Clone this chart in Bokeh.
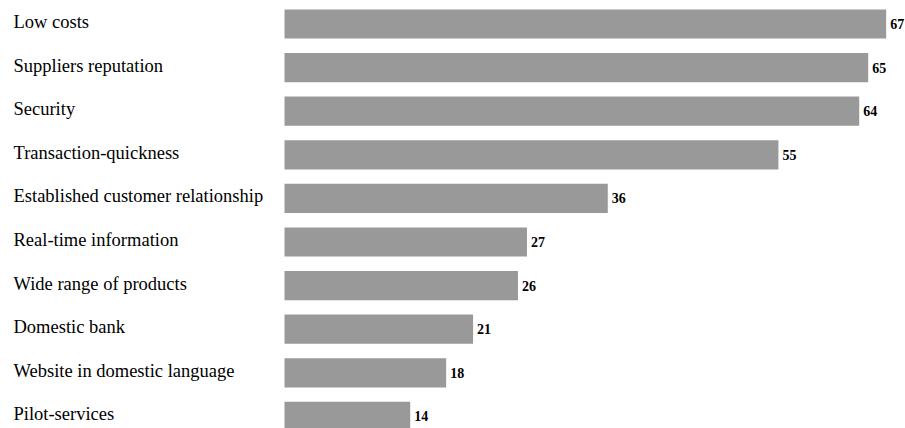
from bokeh.plotting import figure
from bokeh.models import ColumnDataSource, Range1d
from bokeh.core.properties import value
from bokeh.embed import file_html
from bokeh.resources import INLINE

categories = ["Low costs", "Suppliers reputation", "Security", "Transaction-quickness",
              "Established customer relationship", "Real-time information",
              "Wide range of products", "Domestic bank", "Website in domestic language",
              "Pilot-services"]
values = [67, 65, 64, 55, 36, 27, 26, 21, 18, 14]

pos = list(range(len(categories)))
src = ColumnDataSource(dict(y=pos, v=values, cat=categories, lab=[str(v) for v in values]))

W, H = 905, 428
px_per_unit = 8.98
x_start = -284 / px_per_unit
x_end = x_start + W / px_per_unit
row_px = 43.6
y_top = -23.5 / row_px
y_bot = y_top + H / row_px

p = figure(width=W, height=H, output_backend="svg", toolbar_location=None,
           x_range=Range1d(x_start, x_end), y_range=Range1d(y_bot, y_top),
           min_border=0, outline_line_color=None)
p.xaxis.visible = False
p.yaxis.visible = False
p.grid.visible = False

p.hbar(y="y", left=0, right="v", height=0.67, source=src,
       fill_color="#999999", line_color=None)

p.text(x=x_start, y="y", text="cat", source=src, x_offset=13, y_offset=-2,
       text_font=value("Liberation Serif"), text_font_size="18.5px",
       text_baseline="middle", text_align="left", text_color="#000000")

p.text(x="v", y="y", text="lab", source=src, x_offset=4, y_offset=0,
       text_font=value("Liberation Serif"), text_font_size="14px", text_font_style="bold",
       text_baseline="middle", text_align="left", text_color="#000000")

open("out.html", "w").write(file_html(p, INLINE))
